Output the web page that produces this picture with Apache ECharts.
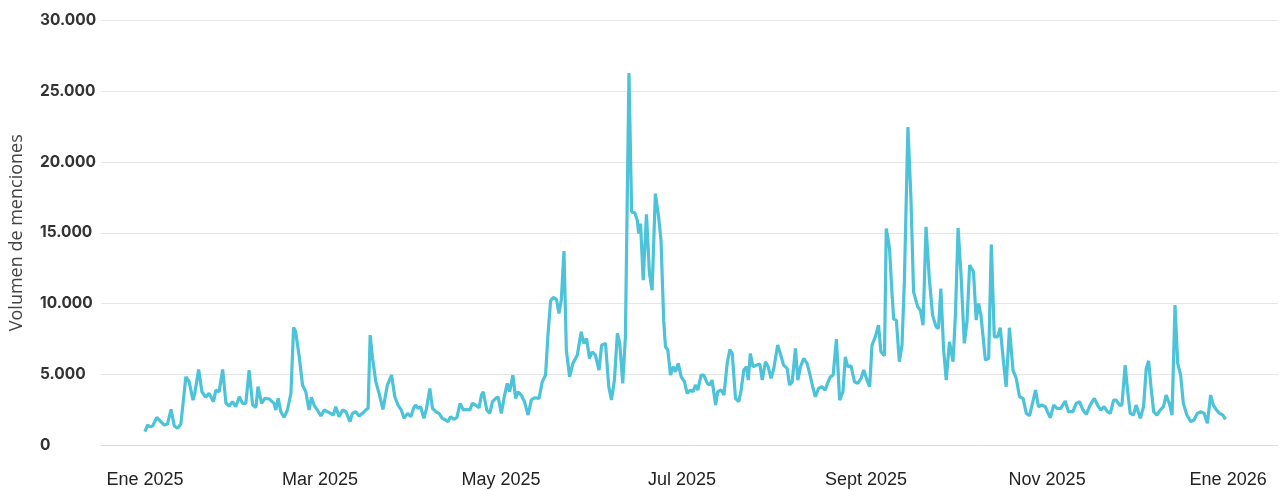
<!DOCTYPE html>
<html>
<head>
<meta charset="utf-8">
<script src="https://cdn.jsdelivr.net/npm/echarts@6/dist/echarts.min.js"></script>
<style>
html,body{margin:0;padding:0;background:#fff;}
#chart{width:1281px;height:491px;}
</style>
</head>
<body>
<div id="chart"></div>
<script>
// Day offsets from 1 Jan 2025 and mention volumes
const dias = [
0.0,0.9,1.7,2.6,4.0,5.2,6.5,7.6,8.8,9.9,11.0,12.1,13.8,14.9,16.2,16.8,18.1,19.2,20.5,21.6,
23.1,23.9,25.0,26.2,27.3,28.4,29.5,30.6,31.8,32.9,34.0,35.1,36.3,37.4,38.1,39.3,40.4,41.9,
43.5,44.1,44.9,45.8,46.9,48.0,49.2,50.1,50.8,52.0,53.1,54.2,55.3,56.1,57.0,58.1,59.3,60.4,
61.5,62.6,63.5,64.3,65.4,66.6,67.7,69.1,69.9,71.0,72.2,73.3,74.4,75.2,75.9,76.7,77.8,78.9,
80.2,81.7,83.1,84.2,85.3,86.4,87.3,88.5,89.6,90.5,91.2,92.0,92.9,94.0,94.9,96.0,96.9,98.0,
99.1,100.2,101.3,102.1,103.0,104.1,105.1,106.2,107.3,108.4,109.5,110.3,111.4,112.6,113.4,114.0,
115.2,116.2,117.1,118.2,119.0,120.1,121.2,122.1,122.9,124.0,124.9,125.7,126.8,127.9,129.1,130.2,
131.3,132.8,133.9,135.0,135.8,136.7,137.6,138.7,139.5,140.3,141.2,142.0,143.1,144.2,145.7,147.0,
147.9,148.8,149.8,150.7,151.8,153.0,153.9,155.2,156.3,157.2,158.2,159.2,160.0,161.0,161.9,163.1,
164.0,165.1,165.9,166.4,167.0,167.9,169.0,170.0,170.9,172.0,173.1,173.9,174.8,175.4,176.2,177.1,
178.0,178.8,179.7,180.7,181.8,182.7,183.8,184.7,185.5,186.3,187.4,188.3,189.5,190.3,191.1,192.3,
193.0,194.2,195.1,196.2,197.1,197.9,199.0,200.1,200.9,201.8,202.7,203.3,204.0,204.9,206.1,207.2,
208.0,209.1,210.0,211.0,211.9,213.2,214.1,215.2,216.4,217.2,218.1,219.2,220.0,220.9,222.0,223.1,
224.0,225.0,225.9,227.0,228.1,229.2,230.0,230.9,231.9,233.0,234.1,235.2,236.0,236.8,237.9,239.1,
240.2,241.3,242.2,243.3,244.2,245.0,246.1,247.2,248.0,249.2,249.8,250.9,251.7,252.3,253.2,254.2,
255.1,255.9,257.1,258.1,259.0,260.4,261.3,262.2,263.2,264.3,265.4,266.6,267.4,268.2,269.1,270.0,
271.1,272.3,273.1,274.0,275.0,276.1,277.0,277.9,279.2,280.1,280.9,281.7,283.2,284.3,285.2,286.2,
287.3,288.2,289.3,290.2,291.3,292.5,293.6,294.7,295.9,297.0,298.1,299.2,300.1,301.1,302.2,303.4,
304.1,305.1,306.2,307.3,308.6,310.1,311.2,312.7,313.8,314.9,316.1,317.2,318.5,319.9,321.0,322.1,
323.2,324.3,325.3,326.4,327.3,328.4,329.2,330.3,331.1,332.0,333.1,334.0,335.4,336.5,337.4,338.2,
339.0,339.9,341.0,342.1,343.2,344.1,345.2,346.1,347.1,348.0,349.0,349.9,351.1,352.4,353.5,354.6,
355.8,356.9,358.0,359.1,360.0,361.1,362.1,363.2,364.1
];
const menciones = [
950,1410,1290,1340,1955,1694,1412,1482,2520,1340,1180,1480,4822,4470,3177,3650,5344,3763,3367,3650,
3060,3883,3763,5344,2943,2753,3060,2705,3410,2943,2943,5295,2824,2660,4120,2943,3297,3250,
2943,2471,3297,2353,1955,2471,3650,8310,8000,6234,4236,3763,2471,3367,2824,2471,2047,2471,
2353,2236,2118,2705,2000,2471,2353,1647,2236,2353,2047,2236,2471,2588,7766,6120,4470,3650,
2518,4236,4942,3410,2824,2471,1883,2236,2000,2588,2824,2588,2705,1883,2588,4000,2588,2353,
2236,1883,1765,1647,2000,1812,1930,2943,2471,2518,2471,2943,2824,2635,3530,3763,
2471,2236,3060,3297,3410,2236,3530,4353,3763,4942,3297,3763,3530,3060,2118,3177,
3341,3297,4470,4942,7766,10200,10430,10290,9300,10240,13700,6710,4823,5766,6354,8000,
7180,7530,6120,6590,6354,5295,7060,7180,4116,3177,4589,7883,7180,4353,7645,26285,
16470,16400,15885,14945,15650,11650,16306,12120,10943,17765,16118,14473,8825,6940,6710,4942,
5530,5177,5766,4823,4470,3650,3883,3763,4236,3883,4942,4942,4353,4236,4589,2824,
3763,3883,3530,5766,6753,6470,3297,3060,3883,5295,5530,4589,6470,5530,5648,5718,
4589,5883,5530,4706,5413,7060,6470,5648,5413,4236,4470,6823,4589,5530,6118,5766,
5060,4118,3410,4000,4118,3883,4353,4800,4942,7483,3177,3763,6230,5530,5600,4470,
4353,4706,5295,4589,4118,7060,7645,8472,6590,6307,15300,13887,10826,8896,8825,5883,
7060,11530,22470,17530,10826,9765,9530,8472,15412,11770,9178,8350,8236,11060,6825,4589,
7295,5883,9178,15340,12000,7180,8708,12710,12240,8825,10000,9178,6000,6118,14170,7645,
7645,8286,5883,4118,8286,5295,4706,3410,3297,2236,2070,3060,3883,2705,2824,2705,
2353,1930,2824,2588,2588,3106,2353,2353,2943,3060,2471,2165,2824,3297,2824,2471,
2705,2353,2236,3177,3177,2824,2824,5648,3883,2236,2118,2824,1883,2705,5413,5952,
4118,2353,2118,2471,2705,3530,2943,2118,9884,5766,4942,2943,2118,1647,1765,2236,
2353,2236,1530,3530,2824,2471,2236,2118,1812
];
const etiquetasX = ['Ene 2025','Mar 2025','May 2025','Jul 2025','Sept 2025','Nov 2025','Ene 2026'];
const fechasEtiquetas = ['2025-01-01','2025-03-01','2025-05-01','2025-07-01','2025-09-01','2025-11-01','2026-01-01'];
const nombreEjeY = 'Volumen de menciones';

const DAY = 86400000;
const t0 = Date.UTC(2025, 0, 1);
const toDia = s => { const p = s.split('-').map(Number); return Math.round((Date.UTC(p[0], p[1] - 1, p[2]) - t0) / DAY); };
const labelDias = fechasEtiquetas.map(toDia);
const serie = dias.map((d, i) => [d, menciones[i]]);
const fmtMiles = v => String(v).replace(/\B(?=(\d{3})+(?!\d))/g, '.');

const chart = echarts.init(document.getElementById('chart'), null, {renderer: 'canvas'});
chart.setOption({
  animation: false,
  backgroundColor: '#ffffff',
  grid: {left: 100, right: 3, top: 20.5, bottom: 46, containLabel: false},
  xAxis: {
    type: 'value',
    min: -14.8,
    max: 381.8,
    axisLine: {show: true, lineStyle: {color: '#dedede', width: 1}},
    axisTick: {show: false},
    splitLine: {show: false},
    axisLabel: {
      customValues: labelDias,
      formatter: v => { const i = labelDias.findIndex(t => Math.abs(t - v) < 0.5); return i >= 0 ? etiquetasX[i] : ''; },
      color: '#222',
      fontFamily: 'Liberation Sans',
      fontSize: 18,
      margin: 26,
      showMinLabel: true,
      showMaxLabel: true
    }
  },
  yAxis: {
    type: 'value',
    min: 0,
    max: 30000,
    interval: 5000,
    name: nombreEjeY,
    nameLocation: 'middle',
    nameGap: 75,
    nameTextStyle: {fontFamily: 'Open Sans', fontSize: 18, fontWeight: 400, color: '#444'},
    axisLine: {show: false},
    axisTick: {show: false},
    splitLine: {show: true, lineStyle: {color: '#e6e6e6', width: 1}},
    axisLabel: {
      align: 'left',
      margin: 61,
      fontFamily: 'Inter',
      fontWeight: 700,
      fontSize: 15.5,
      color: '#333',
      formatter: v => fmtMiles(v)
    }
  },
  series: [{
    type: 'line',
    data: serie,
    showSymbol: false,
    smooth: false,
    lineStyle: {color: '#4CC3D9', width: 3.2},
    itemStyle: {color: '#4CC3D9'}
  }]
});
</script>
</body>
</html>
